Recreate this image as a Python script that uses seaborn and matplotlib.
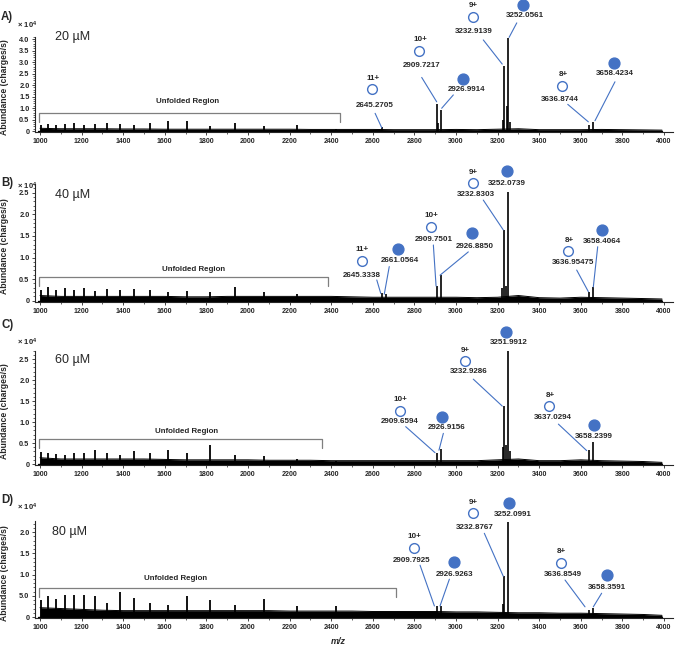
import matplotlib
matplotlib.use("Agg")
import matplotlib.pyplot as plt
import seaborn as sns
import pandas as pd

# ---- data (intensities in units of 10^4 charges/s) ----
# unfolded charge-state series, m/z
unfolded_mz = [1003, 1039, 1077, 1118, 1162, 1211, 1264, 1320, 1383, 1452,
               1529, 1614, 1709, 1816, 1937, 2075, 2235, 2421]
unfolded_A = [0.25, 0.29, 0.28, 0.29, 0.35, 0.25, 0.32, 0.35, 0.29, 0.25,
              0.35, 0.43, 0.42, 0.23, 0.35, 0.23, 0.25, 0.10]
unfolded_B = [0.25, 0.31, 0.25, 0.29, 0.25, 0.30, 0.22, 0.26, 0.25, 0.27,
              0.25, 0.19, 0.23, 0.19, 0.31, 0.21, 0.15, 0.08]
unfolded_C = [0.29, 0.26, 0.25, 0.22, 0.26, 0.26, 0.34, 0.26, 0.22, 0.30,
              0.26, 0.34, 0.26, 0.46, 0.21, 0.18, 0.12, 0.08]
unfolded_D = [0.39, 0.49, 0.43, 0.53, 0.51, 0.51, 0.49, 0.34, 0.60, 0.45,
              0.34, 0.29, 0.49, 0.39, 0.29, 0.43, 0.27, 0.25]

# noise floor read every 100 m/z
noise_mz = [1000, 1100, 1200, 1300, 1400, 1500, 1600, 1700, 1800, 1900, 2000,
            2100, 2200, 2300, 2400, 2500, 2600, 2700, 2800, 2900, 3000,
            3100, 3200, 3300, 3400, 3500, 3600, 3700, 3800, 3900, 3990]
noise_A = [0.12, 0.10, 0.10, 0.10, 0.09, 0.09, 0.08, 0.08, 0.08, 0.08, 0.08,
           0.08, 0.08, 0.07, 0.07, 0.07, 0.07, 0.06, 0.06, 0.06, 0.07,
           0.06, 0.08, 0.10, 0.06, 0.06, 0.06, 0.07, 0.06, 0.05, 0.04]
noise_B = [0.12, 0.10, 0.10, 0.10, 0.10, 0.10, 0.10, 0.09, 0.09, 0.10, 0.10,
           0.10, 0.10, 0.10, 0.10, 0.09, 0.08, 0.08, 0.08, 0.08, 0.08,
           0.07, 0.08, 0.12, 0.07, 0.06, 0.08, 0.07, 0.06, 0.05, 0.04]
noise_C = [0.15, 0.12, 0.12, 0.12, 0.12, 0.12, 0.11, 0.10, 0.10, 0.10, 0.10,
           0.09, 0.09, 0.09, 0.08, 0.08, 0.08, 0.08, 0.08, 0.08, 0.08,
           0.08, 0.10, 0.12, 0.08, 0.08, 0.10, 0.08, 0.07, 0.06, 0.04]
noise_D = [0.22, 0.20, 0.18, 0.16, 0.15, 0.15, 0.15, 0.15, 0.15, 0.15, 0.15,
           0.15, 0.14, 0.14, 0.14, 0.14, 0.13, 0.13, 0.13, 0.13, 0.12,
           0.12, 0.11, 0.10, 0.10, 0.09, 0.09, 0.08, 0.07, 0.06, 0.04]

# folded peaks (incl. satellites around the main ones)
peaks_mz_A = [2645.27, 2909.72, 2914, 2926.99, 3225, 3232.91, 3245, 3252.06, 3258, 3636.87, 3658.42]
peaks_int_A = [0.17, 1.17, 0.35, 0.91, 0.50, 2.83, 1.10, 4.04, 0.40, 0.26, 0.40]
peaks_mz_B = [2645.33, 2661.06, 2909.75, 2926.89, 3222, 3232.83, 3240, 3252.07, 3636.95, 3658.41]
peaks_int_B = [0.17, 0.15, 0.34, 0.60, 0.30, 1.64, 0.35, 2.52, 0.20, 0.31]
peaks_mz_C = [2909.66, 2926.92, 3225, 3232.93, 3242, 3251.99, 3260, 3637.03, 3658.24]
peaks_int_C = [0.27, 0.35, 0.40, 1.39, 0.45, 2.73, 0.30, 0.33, 0.53]
peaks_mz_D = [2909.79, 2926.93, 3225, 3232.88, 3252.10, 3636.85, 3658.36]
peaks_int_D = [0.27, 0.25, 0.30, 0.96, 2.24, 0.16, 0.21]

concentrations = ["20 µM", "40 µM", "60 µM", "80 µM"]
panel_letters = ["A)", "B)", "C)", "D)"]

# annotations: (label, filled, charge, circle xy, label xy, line or None)
ann_A = [
    ("2645.2705", False, "11+", (2598, 1.81), (2611, 1.09), ((2611, 0.77), (2643, 0.14))),
    ("2909.7217", False, "10+", (2824, 3.49), (2835, 2.84), ((2835, 2.33), (2907, 1.27))),
    ("2926.9914", True, None, (3035, 2.26), (3051, 1.81), ((2987, 1.57), (2931, 0.99))),
    ("3232.9139", False, "9+", (3080, 4.97), (3083, 4.32), ((3131, 3.96), (3222, 2.91))),
    ("3252.0561", True, None, (3320, 5.48), (3332, 5.00), ((3292, 4.70), (3255, 4.07))),
    ("3636.8744", False, "8+", (3511, 1.97), (3500, 1.39), ((3537, 1.16), (3636, 0.40))),
    ("3658.4234", True, None, (3761, 2.94), (3764, 2.48), ((3764, 2.14), (3668, 0.45))),
]
ann_B = [
    ("2645.3338", False, "11+", (2546, 0.92), (2546, 0.59), ((2619, 0.48), (2638, 0.17))),
    ("2661.0564", True, None, (2720, 1.19), (2731, 0.92), ((2679, 0.79), (2655, 0.15))),
    ("2909.7501", False, "10+", (2880, 1.71), (2891, 1.41), ((2891, 1.29), (2904, 0.34))),
    ("2926.8850", True, None, (3078, 1.56), (3091, 1.25), ((3059, 1.13), (2923, 0.59))),
    ("3232.8303", False, "9+", (3080, 2.72), (3096, 2.45), ((3131, 2.33), (3227, 1.64))),
    ("3252.0739", True, None, (3244, 3.00), (3244, 2.72), None),
    ("3636.95475", False, "8+", (3540, 1.15), (3561, 0.88), ((3580, 0.71), (3636, 0.21))),
    ("3658.4064", True, None, (3700, 1.64), (3700, 1.37), ((3681, 1.25), (3660, 0.32))),
]
ann_C = [
    ("2909.6594", False, "10+", (2731, 1.27), (2731, 1.02), ((2758, 0.89), (2899, 0.27))),
    ("2926.9156", True, None, (2931, 1.13), (2955, 0.86), ((2939, 0.73), (2918, 0.33))),
    ("3232.9286", False, "9+", (3043, 2.45), (3059, 2.20), ((3083, 2.02), (3222, 1.38))),
    ("3251.9912", True, None, (3240, 3.15), (3251, 2.90), None),
    ("3637.0294", False, "8+", (3449, 1.38), (3465, 1.10), ((3492, 0.95), (3628, 0.32))),
    ("3658.2399", True, None, (3663, 0.93), (3663, 0.65), None),
]
ann_D = [
    ("2909.7925", False, "10+", (2798, 1.63), (2787, 1.34), ((2827, 1.22), (2896, 0.26))),
    ("2926.9263", True, None, (2992, 1.30), (2992, 1.01), ((2968, 0.89), (2923, 0.26))),
    ("3232.8767", False, "9+", (3080, 2.44), (3091, 2.10), ((3136, 1.97), (3227, 0.96))),
    ("3252.0991", True, None, (3256, 2.69), (3272, 2.42), None),
    ("3636.8549", False, "8+", (3503, 1.28), (3513, 1.01), ((3524, 0.87), (3620, 0.24))),
    ("3658.3591", True, None, (3724, 0.99), (3724, 0.70), ((3700, 0.56), (3660, 0.24))),
]

# bracket: x0, x1, top, leg bottom, text x, text y
brackets = [(995, 2440, 0.77, 0.40, 1707, 1.27),
            (995, 2385, 0.56, 0.34, 1737, 0.73),
            (995, 2354, 0.59, 0.37, 1705, 0.77),
            (995, 2711, 0.68, 0.47, 1650, 0.90)]

sns.set_style("ticks")
plt.rcParams["font.family"] = ["Liberation Sans", "DejaVu Sans"]
plt.rcParams["mathtext.fontset"] = "custom"
plt.rcParams["mathtext.bf"] = "Liberation Sans:bold"

W, H = 676, 646
BLUE = "#4472C4"
fig = plt.figure(figsize=(W / 100, H / 100), dpi=100)

# axes geometry in pixels: (top, bottom), ylim, yticks
panels = [
    dict(top=36.7, bot=132.2, ylim=(-0.05, 4.1), yt=[0, 0.5, 1.0, 1.5, 2.0, 2.5, 3.0, 3.5, 4.0],
         ytl=["0", "0.5", "1.0", "1.5", "2.0", "2.5", "3.0", "3.5", "4.0"],
         unf=unfolded_A, noise=noise_A, pmz=peaks_mz_A, pint=peaks_int_A, ann=ann_A,
         letter_y=17, x10_y=25, conc=(55, 37)),
    dict(top=184.1, bot=302.0, ylim=(-0.03, 2.7), yt=[0, 0.5, 1.0, 1.5, 2.0, 2.5],
         ytl=["0", "0.5", "1.0", "1.5", "2.0", "2.5"],
         unf=unfolded_B, noise=noise_B, pmz=peaks_mz_B, pint=peaks_int_B, ann=ann_B,
         letter_y=183, x10_y=186, conc=(55, 195)),
    dict(top=350.6, bot=465.3, ylim=(-0.03, 2.7), yt=[0, 0.5, 1.0, 1.5, 2.0, 2.5],
         ytl=["0", "0.5", "1.0", "1.5", "2.0", "2.5"],
         unf=unfolded_C, noise=noise_C, pmz=peaks_mz_C, pint=peaks_int_C, ann=ann_C,
         letter_y=325, x10_y=342, conc=(55, 360)),
    dict(top=521.4, bot=618.3, ylim=(-0.03, 2.25), yt=[0, 0.5, 1.0, 1.5, 2.0],
         ytl=["0", "5.0", "1.0", "1.5", "2.0"],
         unf=unfolded_D, noise=noise_D, pmz=peaks_mz_D, pint=peaks_int_D, ann=ann_D,
         letter_y=500, x10_y=507, conc=(52, 532)),
]

def fx(px):
    return px / W

def fy(py):
    return 1 - py / H

txt_kw = dict(fontsize=5.8, fontweight="bold", ha="center", va="center", clip_on=False)

for i, p in enumerate(panels):
    ax = fig.add_axes([fx(35), fy(p["bot"]), fx(638), (p["bot"] - p["top"]) / H])
    ax.set_xlim(976, 4043)
    ax.set_ylim(*p["ylim"])

    # noise floor
    nd = pd.DataFrame({"mz": noise_mz, "ab": p["noise"]})
    ax.fill_between(nd["mz"], 0, nd["ab"], color="black", lw=0)
    sns.lineplot(data=nd, x="mz", y="ab", ax=ax, color="black", lw=0.7)
    ax.plot([990, 3990], [0, 0], color="black", lw=1.0)

    # peaks
    ax.vlines(unfolded_mz, 0, p["unf"], color="black", lw=1.3)
    ax.vlines(p["pmz"], 0, p["pint"], color="black", lw=1.2)

    # unfolded bracket
    x0, x1, yt, yl, tx, ty = brackets[i]
    ax.plot([x0, x0, x1, x1], [yl, yt, yt, yl], color="#7f7f7f", lw=0.9)
    ax.text(tx, ty, "Unfolded Region", fontsize=5.7, fontweight="bold",
            ha="center", va="center")

    # annotations
    dy = (p["ylim"][1] - p["ylim"][0]) * 11 / (p["bot"] - p["top"])
    for lab, filled, charge, cxy, lxy, line in p["ann"]:
        if filled:
            ax.plot(*cxy, "o", ms=7.8, color=BLUE, mec=BLUE, clip_on=False)
        else:
            ax.plot(*cxy, "o", ms=7.0, mfc="white", mec=BLUE, mew=1.0, clip_on=False)
        if charge:
            ax.text(cxy[0] + 3, cxy[1] + dy, charge, **txt_kw)
        ax.text(*lxy, lab, **txt_kw)
        if line:
            ax.plot([line[0][0], line[1][0]], [line[0][1], line[1][1]],
                    color=BLUE, lw=0.8, clip_on=False)

    # axes styling
    sns.despine(ax=ax)
    ax.spines["left"].set_linewidth(0.8)
    ax.spines["bottom"].set_linewidth(0.8)
    ax.set_xticks(range(1000, 4001, 200))
    ax.set_xticks(range(1000, 4001, 100), minor=True)
    ax.set_xticklabels([str(v) for v in range(1000, 4001, 200)],
                       fontsize=5, fontweight="bold")
    ax.set_yticks(p["yt"])
    ax.set_yticklabels(p["ytl"], fontsize=5.3, fontweight="bold")
    ax.set_yticks([round(v * 0.1, 1) for v in range(0, int(p["ylim"][1] * 10) + 1)], minor=True)
    ax.tick_params(axis="both", which="major", direction="out", length=2.5, width=0.6, pad=1.5)
    ax.tick_params(axis="both", which="minor", direction="out", length=1.5, width=0.5)
    ax.set_xlabel("")
    ax.set_ylabel("Abundance (charges/s)", fontsize=6.2, fontweight="bold")
    ax.yaxis.set_label_coords(-0.04, 0.47)

    # header texts
    fig.text(fx(1), fy(p["letter_y"]), panel_letters[i], fontsize=8.3,
             fontweight="bold", ha="left", va="center")
    fig.text(fx(17), fy(p["x10_y"]), r"$\mathbf{\times\ 10^4}$", fontsize=5.5,
             ha="left", va="center")
    fig.text(fx(p["conc"][0]), fy(p["conc"][1]), concentrations[i], fontsize=9,
             ha="left", va="center")

fig.text(fx(338), fy(641), "m/z", fontsize=6.5, fontstyle="italic",
         fontweight="bold", ha="center", va="center")

fig.savefig("out.png", dpi=100)
